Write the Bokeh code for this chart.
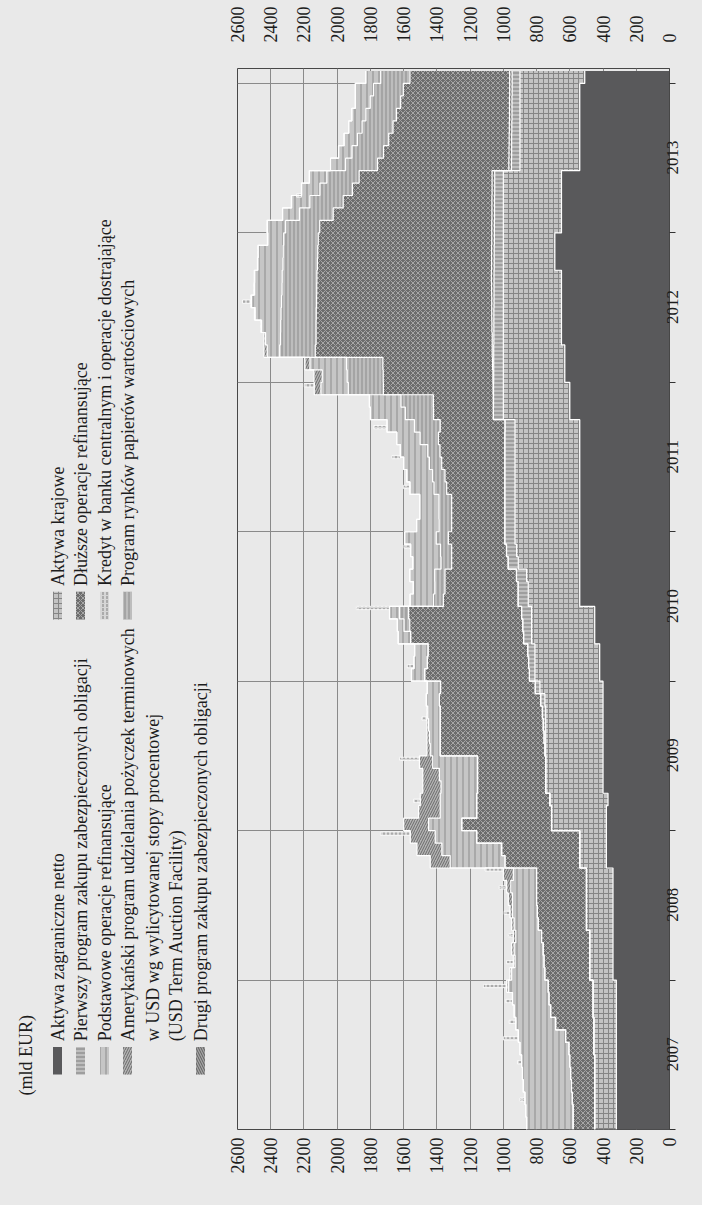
import math
import numpy as np
import pandas as pd
from bokeh.plotting import figure
from bokeh.layouts import row
from bokeh.models import Range1d, FixedTicker, LinearAxis
from bokeh.core.properties import value
from bokeh.embed import file_html
from bokeh.resources import INLINE

# ---------------- data (mld EUR), monthly, Jan 2007 .. Jan 2014 ----------------
months = pd.date_range("2007-01-01", "2014-01-01", freq="MS")

aktywa_zagraniczne = [
    320, 320, 320, 320, 320, 320, 320, 320, 320, 320, 320, 320,
    340, 340, 340, 340, 340, 340, 340, 340, 340, 380, 380, 380,
    380, 380, 370, 400, 400, 400, 400, 400, 400, 400, 400, 400,
    420, 420, 420, 450, 450, 450, 540, 540, 540, 540, 540, 540,
    540, 540, 540, 540, 540, 540, 540, 540, 540, 600, 600, 600,
    630, 630, 630, 650, 650, 650, 650, 650, 650, 690, 690, 690,
    650, 650, 650, 650, 650, 540, 540, 540, 540, 540, 540, 540,
    510]
aktywa_krajowe = [
    130, 130, 130, 130, 130, 130, 135, 135, 135, 140, 140, 140,
    140, 140, 140, 140, 160, 160, 160, 160, 160, 160, 160, 160,
    330, 330, 350, 345, 345, 345, 345, 345, 345, 345, 350, 380,
    390, 390, 390, 380, 380, 380, 310, 310, 320, 370, 380, 390,
    390, 390, 390, 390, 390, 390, 390, 390, 390, 400, 400, 400,
    370, 370, 370, 350, 350, 350, 350, 350, 350, 310, 310, 310,
    350, 350, 350, 350, 350, 360, 360, 360, 360, 360, 360, 360,
    390]
cbpp1 = [
    0, 0, 0, 0, 0, 0, 0, 0, 0, 0, 0, 0,
    0, 0, 0, 0, 0, 0, 0, 0, 0, 0, 0, 0,
    0, 0, 0, 0, 0, 0, 5, 10, 15, 20, 25, 28,
    33, 38, 43, 48, 53, 60, 61, 61, 61, 61, 61, 61,
    61, 61, 61, 61, 61, 61, 61, 61, 60, 60, 59, 59,
    58, 58, 58, 57, 57, 57, 56, 56, 56, 55, 55, 54,
    54, 53, 53, 52, 52, 51, 50, 50, 49, 48, 48, 47,
    47]
cbpp2 = [
    0, 0, 0, 0, 0, 0, 0, 0, 0, 0, 0, 0,
    0, 0, 0, 0, 0, 0, 0, 0, 0, 0, 0, 0,
    0, 0, 0, 0, 0, 0, 0, 0, 0, 0, 0, 0,
    0, 0, 0, 0, 0, 0, 0, 0, 0, 0, 0, 0,
    0, 0, 0, 0, 0, 0, 0, 0, 0, 0, 2, 3,
    5, 7, 9, 10, 12, 13, 14, 15, 16, 16, 16, 16,
    16, 16, 16, 16, 16, 16, 16, 15, 15, 15, 15, 15,
    15]
ltro = [
    130, 130, 135, 140, 145, 150, 150, 170, 230, 255, 265, 270,
    270, 275, 280, 290, 290, 295, 300, 300, 300, 450, 470, 620,
    540, 450, 440, 410, 410, 410, 630, 625, 620, 615, 610, 570,
    630, 610, 600, 680, 680, 680, 450, 440, 430, 340, 330, 340,
    320, 320, 320, 350, 360, 380, 390, 400, 390, 360, 360, 660,
    660, 660, 1065, 1060, 1058, 1056, 1054, 1052, 1050, 1048, 1046, 1044,
    1035, 955, 895, 840, 800, 790, 755, 725, 700, 680, 655, 640,
    600]
smp = [
    0, 0, 0, 0, 0, 0, 0, 0, 0, 0, 0, 0,
    0, 0, 0, 0, 0, 0, 0, 0, 0, 0, 0, 0,
    0, 0, 0, 0, 0, 0, 0, 0, 0, 0, 0, 0,
    0, 0, 0, 0, 35, 55, 60, 61, 62, 64, 67, 73,
    76, 77, 77, 76, 75, 74, 74, 110, 155, 170, 195, 211,
    217, 219, 214, 214, 213, 212, 211, 209, 209, 208, 208, 208,
    205, 203, 200, 196, 194, 192, 190, 188, 186, 184, 183, 179,
    176]
mro = [
    280, 285, 285, 290, 290, 290, 295, 285, 240, 220, 220, 240,
    200, 175, 175, 155, 145, 150, 145, 155, 140, 330, 360, 250,
    200, 220, 220, 220, 230, 270, 60, 65, 70, 75, 77, 80,
    80, 80, 80, 75, 40, 60, 140, 130, 150, 170, 180, 190,
    135, 115, 115, 145, 155, 155, 165, 140, 165, 210, 190, 165,
    150, 220, 75, 90, 115, 155, 180, 165, 165, 150, 150, 95,
    110, 100, 110, 110, 105, 90, 80, 80, 80, 85, 90, 110,
    90]
taf = [
    0, 0, 0, 0, 0, 0, 0, 0, 0, 0, 0, 10,
    10, 10, 15, 15, 15, 15, 25, 25, 60, 120, 150, 150,
    150, 130, 120, 110, 100, 80, 20, 15, 10, 5, 3, 0,
    0, 0, 0, 0, 0, 0, 0, 0, 0, 0, 0, 0,
    0, 0, 0, 0, 0, 0, 0, 0, 0, 0, 0, 40,
    50, 30, 20, 10, 5, 5, 5, 5, 3, 3, 3, 3,
    3, 2, 2, 1, 1, 1, 1, 1, 0, 0, 0, 0,
    0]
# lending facility / fine-tuning: short spikes (date as fraction of year, value)
kredyt_t = [2007.20, 2007.45, 2007.61, 2007.72, 2007.86, 2007.96, 2008.12, 2008.30,
            2008.45, 2008.62, 2008.74, 2008.98, 2009.20, 2009.48, 2009.75, 2010.10,
            2010.49, 2010.90, 2011.30, 2011.50, 2011.70, 2011.98, 2012.54, 2013.25]
kredyt_v = [30, 25, 90, 40, 40, 140, 40, 30,
            35, 45, 110, 180, 40, 120, 30, 40,
            200, 40, 40, 50, 80, 60, 50, 30]

value_ticks = [0, 200, 400, 600, 800, 1000, 1200, 1400, 1600, 1800, 2000, 2200, 2400, 2600]
year_edges = [2007, 2008, 2009, 2010, 2011, 2012, 2013, 2014]
year_labels = ["2007", "2008", "2009", "2010", "2011", "2012", "2013"]

legend_col1 = ["Aktywa zagraniczne netto",
               "Pierwszy program zakupu zabezpieczonych obligacji",
               "Podstawowe operacje refinansujące",
               "Amerykański program udzielania pożyczek terminowych",
               "Drugi program zakupu zabezpieczonych obligacji"]
legend_taf_extra = ["w USD wg wylicytowanej stopy procentowej",
                    "(USD Term Auction Facility)"]
legend_col2 = ["Aktywa krajowe",
               "Dłuższe operacje refinansujące",
               "Kredyt w banku centralnym i operacje dostrajające",
               "Program rynków papierów wartościowych"]

# ---------------- styles ----------------
BG = "#e9e9e9"
FONT = "Liberation Serif"
TXT = "#1c1c1c"

styles = {
    "nfa":   dict(fill_color="#59595b"),
    "dom":   dict(fill_color="#c3c3c3", hatch_pattern="+", hatch_color="#858585", hatch_scale=5, hatch_weight=1),
    "cbpp1": dict(fill_color="#9e9e9e", hatch_pattern="-", hatch_color="#dedede", hatch_scale=4, hatch_weight=1),
    "cbpp2": dict(fill_color="#a6a6a6", hatch_pattern="\\", hatch_color="#606060", hatch_scale=5, hatch_weight=1),
    "ltro":  dict(fill_color="#6c6c6c", hatch_pattern="x", hatch_color="#a6a6a6", hatch_scale=5, hatch_weight=1),
    "smp":   dict(fill_color="#a4a4a4", hatch_pattern="|", hatch_color="#d6d6d6", hatch_scale=4, hatch_weight=1),
    "mro":   dict(fill_color="#c6c6c6", hatch_pattern="|", hatch_color="#8c8c8c", hatch_scale=6, hatch_weight=1),
    "taf":   dict(fill_color="#b4b4b4", hatch_pattern="/", hatch_color="#6a6a6a", hatch_scale=5, hatch_weight=1),
    "kred":  dict(fill_color="#d6d6d6", hatch_pattern=":", hatch_color="#808080", hatch_scale=4, hatch_weight=1),
}

# ---------------- plot ----------------
t = np.array(months.year + (months.month - 1) / 12.0, dtype=float)
edges = np.append(t, t[-1] + 1.0 / 12.0)
ys = np.repeat(edges, 2)[1:-1]

layers = [("nfa", aktywa_zagraniczne), ("dom", aktywa_krajowe), ("cbpp1", cbpp1),
          ("cbpp2", cbpp2), ("ltro", ltro), ("smp", smp), ("mro", mro), ("taf", taf)]

H = 1189
W_LEG = 225
W_PLOT = 461

p = figure(width=W_PLOT, height=H, x_range=Range1d(2600, 0), y_range=Range1d(2007.0, 2014.1),
           output_backend="svg", toolbar_location=None, y_axis_location="right",
           min_border_left=12, min_border_right=0, min_border_top=68, min_border_bottom=60)
p.background_fill_color = BG
p.border_fill_color = BG
p.outline_line_color = "#474747"
p.outline_line_width = 1

cum = np.zeros(len(t))
bounds = []
for key, vals in layers:
    v = np.array(vals, dtype=float)
    lo = cum.copy()
    cum = cum + v
    p.harea(y=ys, x1=np.repeat(lo, 2), x2=np.repeat(cum, 2), **styles[key])
    bounds.append(cum.copy())

# spikes of lending facility on top of total
kt = np.array(kredyt_t)
idx = np.floor((kt - 2007.0) * 12).astype(int)
base = cum[idx]
p.hbar(y=kt, left=base, right=base + np.array(kredyt_v), height=0.022,
       line_color="white", line_width=0.8, **styles["kred"])

for b in bounds:
    p.line(x=np.repeat(b, 2), y=ys, line_color="white", line_width=1.2)

# grids
p.xgrid.ticker = FixedTicker(ticks=value_ticks)
p.ygrid.ticker = FixedTicker(ticks=year_edges)
p.grid.grid_line_color = "#8a8a8a"
p.grid.grid_line_width = 1

# value axes (bottom & top)
top = LinearAxis()
p.add_layout(top, "above")
for ax, so in ((p.below[0], 8), (top, 26)):
    ax.ticker = FixedTicker(ticks=value_ticks)
    ax.major_label_orientation = math.pi / 2
    ax.major_tick_out = 0
    ax.major_tick_in = 0
    ax.minor_tick_out = 0
    ax.minor_tick_in = 0
    ax.axis_line_color = None
    ax.major_label_standoff = so
    ax.major_label_text_font = FONT
    ax.major_label_text_font_size = "18px"
    ax.major_label_text_color = TXT

# year axis (right): labels start at the anchor and run upward, so the anchor
# sits half a label length below mid-year
ya = p.yaxis[0]
anchors = [e + 0.5 - 0.11 for e in year_edges[:-1]]
ya.ticker = FixedTicker(ticks=anchors, minor_ticks=year_edges)
ya.major_label_overrides = {a: lab for a, lab in zip(anchors, year_labels)}
ya.major_tick_out = 0
ya.major_tick_in = 0
ya.minor_tick_out = 6
ya.minor_tick_in = 0
ya.minor_tick_line_color = "#333333"
ya.axis_line_color = "#474747"
ya.major_label_orientation = math.pi / 2
ya.major_label_standoff = -3
ya.major_label_text_font = FONT
ya.major_label_text_font_size = "17px"
ya.major_label_text_color = TXT

# ---------------- legend (separate figure, pixel coordinates) ----------------
leg = figure(width=W_LEG, height=H, x_range=Range1d(0, W_LEG), y_range=Range1d(0, H),
             output_backend="svg", toolbar_location=None, x_axis_type=None, y_axis_type=None,
             min_border=0)
leg.background_fill_color = BG
leg.border_fill_color = BG
leg.outline_line_color = None
leg.grid.visible = False

TEXT_KW = dict(angle=math.pi / 2, text_align="left", text_baseline="middle",
               text_font=value(FONT), text_font_size="18px", text_color=TXT)

leg.text(x=[25], y=[38], text=["(mld EUR)"], **TEXT_KW)

col1_x = [57, 80, 104, 127, 200]
col1_keys = ["nfa", "cbpp1", "mro", "taf", "cbpp2"]
for xx, lab, key in zip(col1_x, legend_col1, col1_keys):
    leg.rect(x=[xx], y=[77], width=9, height=31, line_color=None, **styles[key])
    leg.text(x=[xx], y=[99], text=[lab], **TEXT_KW)
leg.text(x=[152, 175], y=[99, 99], text=legend_taf_extra, **TEXT_KW)

col2_x = [57, 80, 104, 127]
col2_keys = ["dom", "ltro", "kred", "smp"]
for xx, lab, key in zip(col2_x, legend_col2, col2_keys):
    leg.rect(x=[xx], y=[587], width=9, height=31, line_color=None, **styles[key])
    leg.text(x=[xx], y=[609], text=[lab], **TEXT_KW)

layout = row(leg, p)
html = file_html(layout, INLINE)
html = html.replace("</head>", "<style>html, body { background-color: %s; }</style>\n</head>" % BG, 1)
open("out.html", "w").write(html)
